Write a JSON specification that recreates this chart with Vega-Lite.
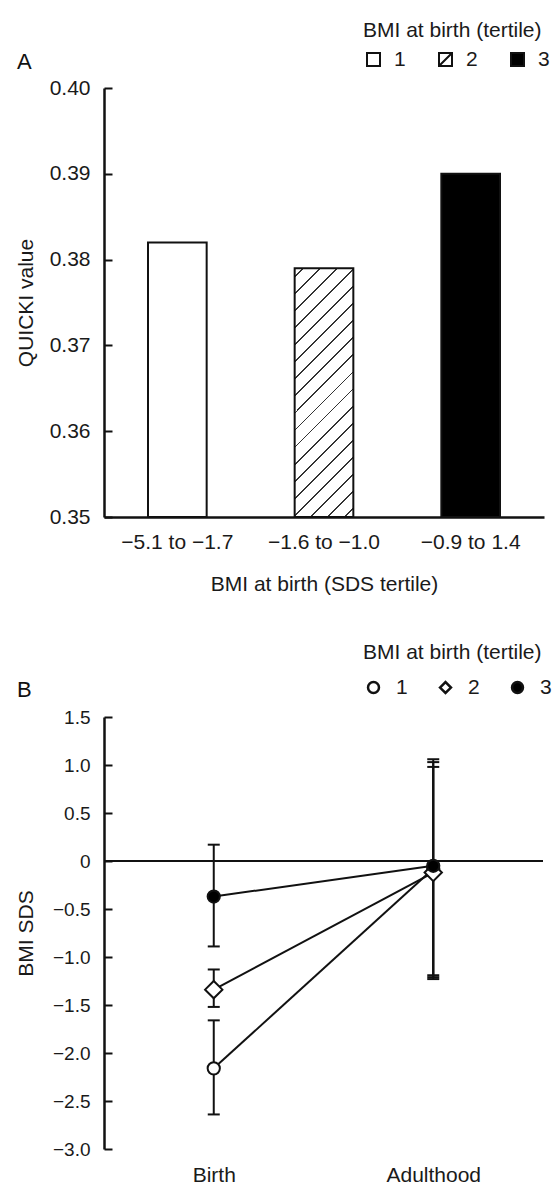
{
  "$schema": "https://vega.github.io/schema/vega-lite/v6.json",
  "padding": {"left": 15, "top": 20, "right": 0, "bottom": 0},
  "autosize": {"type": "pad"},
  "bounds": "flush",
  "spacing": 200,
  "config": {
    "font": "Liberation Sans",
    "view": {"stroke": null},
    "axis": {"grid": false, "labelColor": "#1a1a1a", "titleColor": "#1a1a1a", "domainColor": "#111111", "tickColor": "#111111", "labelFont": "Liberation Sans", "titleFont": "Liberation Sans", "titleFontWeight": "normal"},
    "legend": {"titleFontWeight": "normal", "padding": 0, "titleColor": "#1a1a1a", "labelColor": "#1a1a1a", "titleFont": "Liberation Sans", "labelFont": "Liberation Sans"},
    "title": {"fontWeight": "normal", "color": "#111111", "font": "Liberation Sans"}
  },
  "resolve": {"scale": {"fill": "independent", "shape": "independent"}, "legend": {"fill": "independent", "shape": "independent"}},
  "vconcat": [
    {
      "width": 440,
      "height": 429,
      "title": {"text": "A", "anchor": "start", "frame": "group", "fontSize": 22, "dx": -87, "dy": 54, "offset": 0},
      "data": {"values": [
        {"range": "−5.1 to −1.7", "tertile": "1", "quicki": 0.382},
        {"range": "−1.6 to −1.0", "tertile": "2", "quicki": 0.379},
        {"range": "−0.9 to 1.4", "tertile": "3", "quicki": 0.390}
      ]},
      "layer": [
        {
          "mark": {"type": "bar", "stroke": "#111111", "strokeWidth": 2},
          "encoding": {
            "x": {"field": "range", "type": "nominal", "sort": null, "title": "BMI at birth (SDS tertile)",
              "scale": {"paddingInner": 0.6, "paddingOuter": 0.3},
              "axis": {"labelAngle": 0, "ticks": false, "domainWidth": 2.5, "labelFontSize": 21, "labelPadding": 14, "titleFontSize": 21, "titlePadding": 21}},
            "y": {"field": "quicki", "type": "quantitative", "title": "QUICKI value",
              "scale": {"domain": [0.35, 0.40], "nice": false, "zero": false},
              "axis": {"values": [0.35, 0.36, 0.37, 0.38, 0.39, 0.40], "format": ".2f", "tickSize": -8, "tickWidth": 2, "domainWidth": 2.5, "labelFontSize": 21, "labelPadding": 22, "titleFontSize": 21, "titleX": -68, "titleY": 214.5}},
            "y2": {"datum": 0.35},
            "fill": {"field": "tertile", "type": "nominal",
              "scale": {"domain": ["1", "2", "3"], "range": ["#ffffff", "#ffffff", "#000000"]},
              "legend": {"orient": "none", "legendX": 259, "legendY": -68, "direction": "horizontal", "title": "BMI at birth (tertile)", "titleFontSize": 21, "titlePadding": 8, "labelFontSize": 21, "labelOffset": 10, "columnPadding": 29, "symbolSize": 169, "symbolStrokeWidth": 2, "symbolOpacity": 1},
              "condition": {"test": "datum.tertile === '2'", "value":
                {"gradient": "linear", "x1": 0, "y1": 0, "x2": 0.2761, "y2": 1.1707, "stops": [
                  {"offset": 0, "color": "#ffffff"},
                  {"offset": 0.0248, "color": "#ffffff"}, {"offset": 0.0248, "color": "#333333"}, {"offset": 0.0308, "color": "#333333"}, {"offset": 0.0308, "color": "#ffffff"},
                  {"offset": 0.0803, "color": "#ffffff"}, {"offset": 0.0803, "color": "#333333"}, {"offset": 0.0863, "color": "#333333"}, {"offset": 0.0863, "color": "#ffffff"},
                  {"offset": 0.1358, "color": "#ffffff"}, {"offset": 0.1358, "color": "#333333"}, {"offset": 0.1418, "color": "#333333"}, {"offset": 0.1418, "color": "#ffffff"},
                  {"offset": 0.1913, "color": "#ffffff"}, {"offset": 0.1913, "color": "#333333"}, {"offset": 0.1973, "color": "#333333"}, {"offset": 0.1973, "color": "#ffffff"},
                  {"offset": 0.2468, "color": "#ffffff"}, {"offset": 0.2468, "color": "#333333"}, {"offset": 0.2528, "color": "#333333"}, {"offset": 0.2528, "color": "#ffffff"},
                  {"offset": 0.3023, "color": "#ffffff"}, {"offset": 0.3023, "color": "#333333"}, {"offset": 0.3083, "color": "#333333"}, {"offset": 0.3083, "color": "#ffffff"},
                  {"offset": 0.3578, "color": "#ffffff"}, {"offset": 0.3578, "color": "#333333"}, {"offset": 0.3638, "color": "#333333"}, {"offset": 0.3638, "color": "#ffffff"},
                  {"offset": 0.4133, "color": "#ffffff"}, {"offset": 0.4133, "color": "#333333"}, {"offset": 0.4193, "color": "#333333"}, {"offset": 0.4193, "color": "#ffffff"},
                  {"offset": 0.4688, "color": "#ffffff"}, {"offset": 0.4688, "color": "#333333"}, {"offset": 0.4748, "color": "#333333"}, {"offset": 0.4748, "color": "#ffffff"},
                  {"offset": 0.5243, "color": "#ffffff"}, {"offset": 0.5243, "color": "#333333"}, {"offset": 0.5303, "color": "#333333"}, {"offset": 0.5303, "color": "#ffffff"},
                  {"offset": 0.5798, "color": "#ffffff"}, {"offset": 0.5798, "color": "#333333"}, {"offset": 0.5858, "color": "#333333"}, {"offset": 0.5858, "color": "#ffffff"},
                  {"offset": 0.6353, "color": "#ffffff"}, {"offset": 0.6353, "color": "#333333"}, {"offset": 0.6413, "color": "#333333"}, {"offset": 0.6413, "color": "#ffffff"},
                  {"offset": 0.6908, "color": "#ffffff"}, {"offset": 0.6908, "color": "#333333"}, {"offset": 0.6968, "color": "#333333"}, {"offset": 0.6968, "color": "#ffffff"},
                  {"offset": 0.7463, "color": "#ffffff"}, {"offset": 0.7463, "color": "#333333"}, {"offset": 0.7523, "color": "#333333"}, {"offset": 0.7523, "color": "#ffffff"},
                  {"offset": 0.8018, "color": "#ffffff"}, {"offset": 0.8018, "color": "#333333"}, {"offset": 0.8078, "color": "#333333"}, {"offset": 0.8078, "color": "#ffffff"},
                  {"offset": 0.8573, "color": "#ffffff"}, {"offset": 0.8573, "color": "#333333"}, {"offset": 0.8633, "color": "#333333"}, {"offset": 0.8633, "color": "#ffffff"},
                  {"offset": 0.9128, "color": "#ffffff"}, {"offset": 0.9128, "color": "#333333"}, {"offset": 0.9188, "color": "#333333"}, {"offset": 0.9188, "color": "#ffffff"},
                  {"offset": 0.9683, "color": "#ffffff"}, {"offset": 0.9683, "color": "#333333"}, {"offset": 0.9743, "color": "#333333"}, {"offset": 0.9743, "color": "#ffffff"},
                  {"offset": 1, "color": "#ffffff"}]}}
            }
          }
        },
        {
          "transform": [{"filter": "false"}],
          "mark": {"type": "point", "filled": true, "stroke": "#111111", "strokeWidth": 2},
          "encoding": {
            "x": {"field": "range", "type": "nominal", "sort": null, "title": "BMI at birth (SDS tertile)"},
            "y": {"field": "quicki", "type": "quantitative", "title": "QUICKI value"},
            "shape": {"field": "tertile", "type": "nominal",
              "scale": {"domain": ["1", "2", "3"], "range": ["square", "M-1,-1L1,-1L1,1L-1,1ZM-1,1L1,-1", "square"]},
              "legend": {"orient": "none", "legendX": 259, "legendY": -68, "direction": "horizontal", "title": "BMI at birth (tertile)", "titleFontSize": 21, "titlePadding": 8, "labelFontSize": 21, "labelOffset": 10, "columnPadding": 29, "symbolSize": 169, "symbolStrokeWidth": 2, "symbolOpacity": 1}}
          }
        }
      ]
    },
    {
      "width": 439,
      "height": 432,
      "title": {"text": "B", "anchor": "start", "frame": "group", "fontSize": 22, "dx": -87, "dy": 60, "offset": 0},
      "data": {"values": [
        {"time": "Birth", "tertile": "1", "mean": -2.16, "lo": -2.64, "hi": -1.66},
        {"time": "Birth", "tertile": "2", "mean": -1.34, "lo": -1.52, "hi": -1.13},
        {"time": "Birth", "tertile": "3", "mean": -0.37, "lo": -0.89, "hi": 0.17},
        {"time": "Adulthood", "tertile": "1", "mean": -0.08, "lo": -1.21, "hi": 1.03},
        {"time": "Adulthood", "tertile": "2", "mean": -0.12, "lo": -1.23, "hi": 0.98},
        {"time": "Adulthood", "tertile": "3", "mean": -0.05, "lo": -1.19, "hi": 1.06}
      ]},
      "encoding": {
        "x": {"field": "time", "type": "nominal", "sort": ["Birth", "Adulthood"],
          "scale": {"type": "point", "padding": 0.5, "domain": ["Birth", "Adulthood"]},
          "axis": {"title": null, "domain": false, "ticks": false, "labelAngle": 0, "labelFontSize": 21, "labelPadding": 15}}
      },
      "layer": [
        {"mark": {"type": "rule", "stroke": "#111111", "strokeWidth": 2},
         "encoding": {"x": null, "y": {"datum": 0, "type": "quantitative", "title": "BMI SDS"}}},
        {"mark": {"type": "line", "stroke": "#111111", "strokeWidth": 2},
         "encoding": {"y": {"field": "mean", "type": "quantitative", "title": "BMI SDS",
            "scale": {"domain": [-3, 1.5], "nice": false, "zero": false},
            "axis": {"values": [-3, -2.5, -2, -1.5, -1, -0.5, 0, 0.5, 1, 1.5], "labelExpr": "datum.value === 0 ? '0' : format(datum.value, '.1f')", "tickSize": -8, "tickWidth": 2, "domainWidth": 2.5, "labelFontSize": 19, "labelPadding": 22, "titleFontSize": 21, "titleX": -68, "titleY": 216}},
          "detail": {"field": "tertile"}}},
        {"mark": {"type": "rule", "stroke": "#111111", "strokeWidth": 2},
         "encoding": {"y": {"field": "lo", "type": "quantitative", "title": "BMI SDS"}, "y2": {"field": "hi"}}},
        {"mark": {"type": "tick", "color": "#111111", "size": 12, "thickness": 2, "opacity": 1},
         "encoding": {"y": {"field": "lo", "type": "quantitative", "title": "BMI SDS"}}},
        {"mark": {"type": "tick", "color": "#111111", "size": 12, "thickness": 2, "opacity": 1},
         "encoding": {"y": {"field": "hi", "type": "quantitative", "title": "BMI SDS"}}},
        {"mark": {"type": "point", "filled": true, "stroke": "#111111", "strokeWidth": 2, "opacity": 1},
         "encoding": {
           "y": {"field": "mean", "type": "quantitative", "title": "BMI SDS"},
           "shape": {"field": "tertile", "type": "nominal", "scale": {"domain": ["1", "2", "3"], "range": ["circle", "diamond", "circle"]},
             "legend": {"orient": "none", "legendX": 259, "legendY": -75, "direction": "horizontal", "title": "BMI at birth (tertile)", "titleFontSize": 21, "titlePadding": 14, "labelFontSize": 21, "labelOffset": 12, "columnPadding": 27, "symbolSize": 120, "symbolStrokeWidth": 2.5, "symbolOpacity": 1}},
           "fill": {"field": "tertile", "type": "nominal", "scale": {"domain": ["1", "2", "3"], "range": ["#ffffff", "#ffffff", "#000000"]},
             "legend": {"orient": "none", "legendX": 259, "legendY": -75, "direction": "horizontal", "title": "BMI at birth (tertile)", "titleFontSize": 21, "titlePadding": 14, "labelFontSize": 21, "labelOffset": 12, "columnPadding": 27, "symbolSize": 120, "symbolStrokeWidth": 2.5, "symbolOpacity": 1}},
           "size": {"condition": {"test": "datum.tertile === '2'", "value": 300}, "value": 150}
         }}
      ]
    }
  ]
}
